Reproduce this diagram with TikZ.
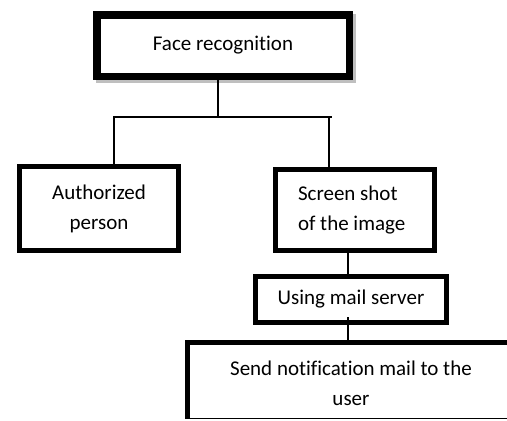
\documentclass[tikz,border=0pt]{standalone}
\usepackage{fontspec}
\setmainfont{Carlito}[Ligatures=NoCommon]
\usetikzlibrary{calc}
\begin{document}
\begin{tikzpicture}[x=1pt,y=-1pt,
  box/.style={draw, line width=5pt, fill=white, inner sep=0pt, align=center,
              font=\fontsize{21}{30}\selectfont},
  conn/.style={line width=1.6pt},
  txt/.style={inner sep=0pt, align=center, font=\fontsize{21}{30}\selectfont}]
\useasboundingbox (0,0) rectangle (507,421);
% shadow of the top box
\fill[gray!50] (96,14) rectangle (356,83);
\node[box, line width=7.5pt, minimum width=252.5pt, minimum height=61.5pt] (face) at (223,45.5) {Face recognition};
\node[box, minimum width=159pt, minimum height=84pt] (auth) at (99,208.5) {Authorized\\person};
\node[box, minimum width=159pt, minimum height=81pt, text width=114pt, align=flush left] (shot) at (355,210) {Screen shot\\of the image};
\node[box, minimum width=191pt, minimum height=46pt] (mail) at (351,299.5) {Using mail server};
\node[inner sep=0pt, minimum width=326.5pt, minimum height=76pt] (send) at (350.75,380.5) {};
\draw[line width=5pt] (send.south west) -- (send.north west) -- (send.north east);
\draw[line width=1pt] (send.south west) -- (send.south east);
\node[txt] (sendtext) at (351,383) {Send notification mail to the\\user};
% connectors
\coordinate (j) at (218,117);
\coordinate (aL) at (114,117);
\coordinate (aR) at (329,117);
\coordinate (m) at (348,0);
\draw[conn] (face.south -| j) -- (j);
\draw[conn] (auth.north -| aL) -- (aL) -- ($(aR)+(3,0)$);
\draw[conn] (aR) -- (shot.north -| aR);
\draw[conn] (shot.south -| m) -- (mail.north -| m);
\draw[conn] ($(mail.south -| m)+(0,-8)$) -- (send.north -| m);
\end{tikzpicture}
\end{document}
